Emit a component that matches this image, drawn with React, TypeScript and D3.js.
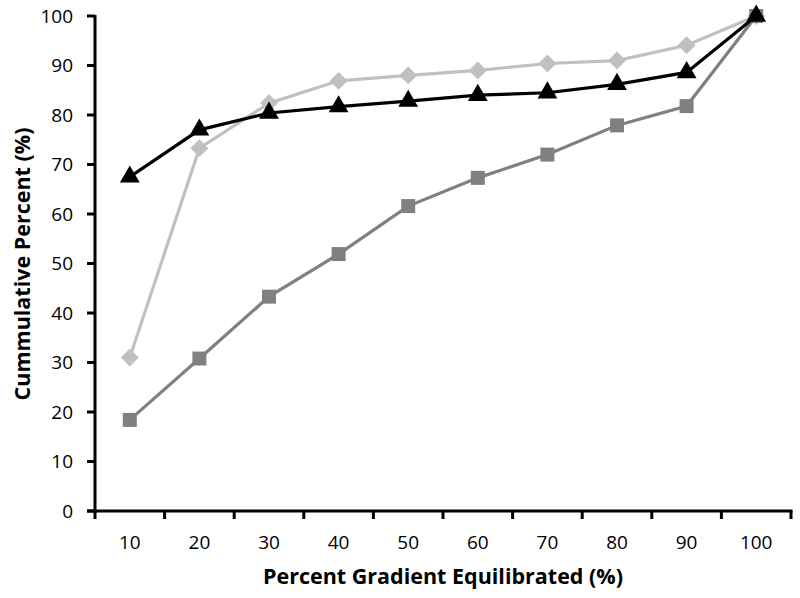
import React from "react";
import * as d3 from "d3";

const categories = ["10", "20", "30", "40", "50", "60", "70", "80", "90", "100"];
const diamondValues = [31.0, 73.3, 82.4, 86.9, 88.0, 89.0, 90.4, 91.0, 94.1, 100];
const squareValues = [18.4, 30.8, 43.3, 51.9, 61.6, 67.3, 72.0, 77.9, 81.8, 100];
const triangleValues = [67.5, 77.0, 80.4, 81.7, 82.8, 84.0, 84.5, 86.2, 88.6, 100];
const yTicks = [0, 10, 20, 30, 40, 50, 60, 70, 80, 90, 100];

const W = 800;
const H = 598;
const left = 95;
const right = 791;
const top = 16;
const bottom = 511;
const FONT = "'Open Sans', sans-serif";

export default function App() {
  const x = d3.scaleBand<string>().domain(categories).range([left, right]).padding(0);
  const y = d3.scaleLinear().domain([0, 100]).range([bottom, top]);
  const cx = (c: string) => (x(c) as number) + x.bandwidth() / 2;
  const line = d3
    .line<number>()
    .x((_, i) => cx(categories[i]))
    .y((d) => y(d));

  const diamond = d3.symbol().type(d3.symbolSquare).size(160)();
  const square = d3.symbol().type(d3.symbolSquare).size(196)();
  const tri = d3.symbol().type(d3.symbolTriangle).size(170)();

  const boundaries = categories.map((c) => x(c) as number).concat([right]);

  return (
    <svg width={W} height={H} style={{ position: "absolute", left: 0, top: 0, background: "#fff" }}>
      <rect x={0} y={0} width={W} height={H} fill="#fff" />
      {/* y axis */}
      <line x1={left} x2={left} y1={top - 1} y2={bottom + 1.5} stroke="#000" strokeWidth={3} />
      {yTicks.map((t) => (
        <g key={t}>
          <line x1={left - 8} x2={left} y1={y(t)} y2={y(t)} stroke="#000" strokeWidth={3} />
          <text x={73} y={y(t)} dy="0.36em" textAnchor="end" fontFamily={FONT} fontSize={19} fill="#000">
            {t}
          </text>
        </g>
      ))}
      {/* x axis */}
      <line x1={left - 8} x2={right + 1.5} y1={bottom} y2={bottom} stroke="#000" strokeWidth={3} />
      {boundaries.map((b, i) => (
        <line key={i} x1={b} x2={b} y1={bottom} y2={bottom + 8} stroke="#000" strokeWidth={3} />
      ))}
      {categories.map((c) => (
        <text key={c} x={cx(c)} y={549} textAnchor="middle" fontFamily={FONT} fontSize={19} fill="#000">
          {c}
        </text>
      ))}
      {/* titles */}
      <text x={443} y={584} textAnchor="middle" fontFamily={FONT} fontWeight="bold" fontSize={21.5} fill="#000">
        Percent Gradient Equilibrated (%)
      </text>
      <text
        transform={`translate(30, 264) rotate(-90)`}
        textAnchor="middle"
        fontFamily={FONT}
        fontWeight="bold"
        fontSize={21.5}
        fill="#000"
      >
        Cummulative Percent (%)
      </text>

      {/* diamond series */}
      <path d={line(diamondValues) || ""} fill="none" stroke="#c0c0c0" strokeWidth={3.2} />
      {diamondValues.map((v, i) => (
        <path key={i} d={diamond || ""} transform={`translate(${cx(categories[i])},${y(v)}) rotate(45)`} fill="#c0c0c0" />
      ))}
      {/* square series */}
      <path d={line(squareValues) || ""} fill="none" stroke="#808080" strokeWidth={3.2} />
      {squareValues.map((v, i) => (
        <path key={i} d={square || ""} transform={`translate(${cx(categories[i])},${y(v)})`} fill="#808080" />
      ))}
      {/* triangle series */}
      <path d={line(triangleValues) || ""} fill="none" stroke="#000" strokeWidth={3.2} />
      {triangleValues.map((v, i) => (
        <path key={i} d={tri || ""} transform={`translate(${cx(categories[i])},${y(v)})`} fill="#000" />
      ))}
    </svg>
  );
}
